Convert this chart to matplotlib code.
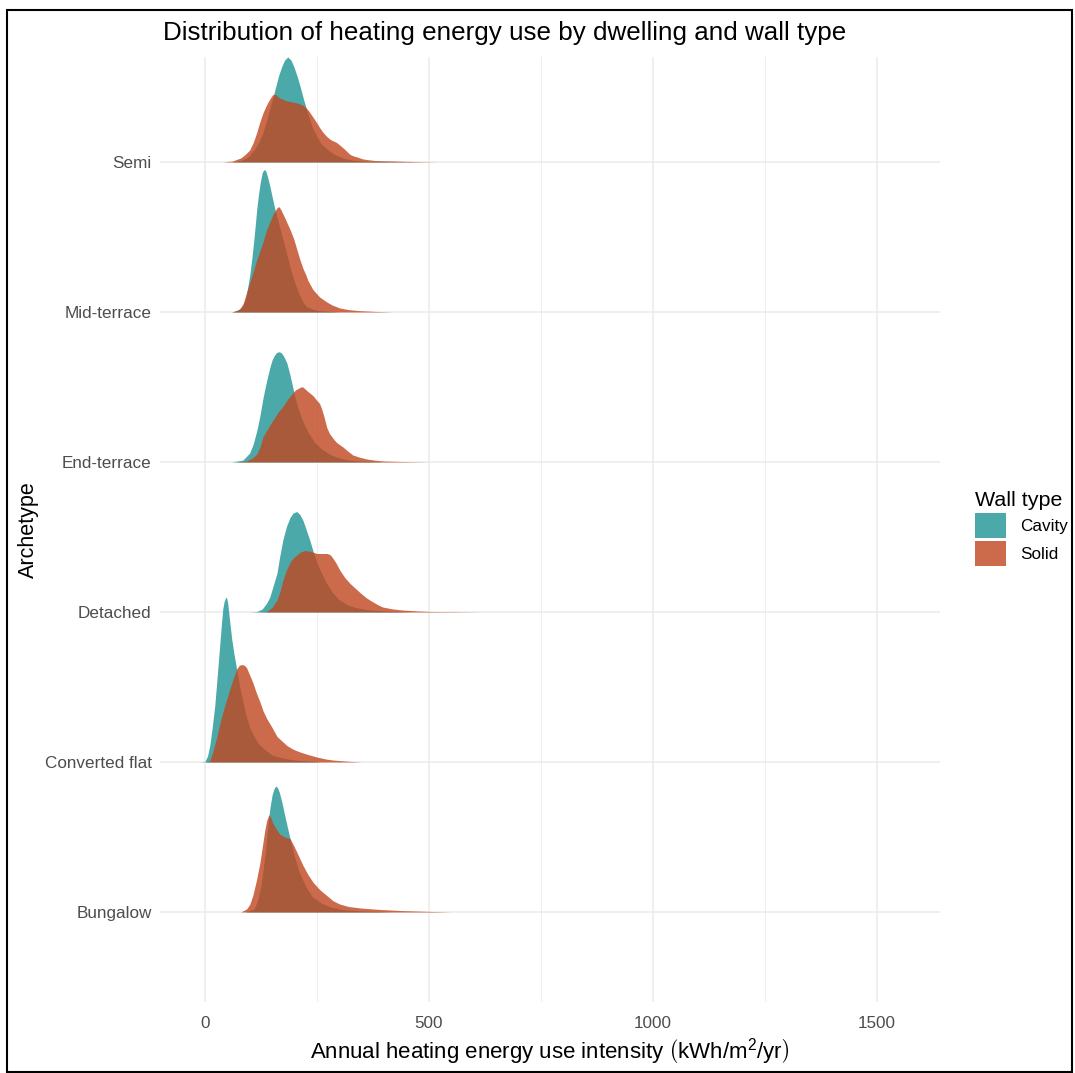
import matplotlib
matplotlib.use("Agg")
import matplotlib.pyplot as plt
from matplotlib.patches import Patch, Rectangle

plt.rcParams['font.family'] = ['Liberation Sans', 'DejaVu Sans']
plt.rcParams['mathtext.fontset'] = 'custom'
plt.rcParams['mathtext.rm'] = 'Liberation Sans'
plt.rcParams['mathtext.it'] = 'Liberation Sans:italic'

# archetypes from bottom row to top row
archetypes = ['Bungalow', 'Converted flat', 'Detached', 'End-terrace', 'Mid-terrace', 'Semi']
wall_types = ['Cavity', 'Solid']

# density curves (x in kWh/m2/yr, height in row units)
semi_cavity_x = [60, 80, 95, 110, 120, 130, 140, 150, 158, 165, 172, 178, 185, 192, 198, 205, 212, 220,
                 230, 240, 250, 260, 275, 290, 310, 330, 360, 400, 480]
semi_cavity_h = [0, .01, .03, .08, .13, .20, .30, .41, .50, .58, .64, .68, .70, .68, .64, .58, .51, .42,
                 .32, .23, .17, .12, .08, .05, .025, .012, .005, .003, 0]
semi_solid_x = [40, 62, 80, 90, 100, 108, 115, 122, 130, 136, 141, 147, 152, 158, 165, 172, 180, 188,
                196, 203, 210, 217, 223, 232, 241, 250, 256, 263, 272, 280, 287, 294, 302, 310, 317,
                324, 332, 340, 353, 370, 380, 420, 470, 520]
semi_solid_h = [0, .007, .027, .05, .08, .13, .19, .26, .33, .37, .40, .43, .45, .45, .43, .42, .41, .405,
                .40, .395, .39, .38, .37, .34, .30, .26, .23, .20, .17, .15, .14, .13, .11, .09, .07,
                .05, .04, .033, .02, .013, .01, .007, .003, 0]

mid_cavity_x = [60, 75, 85, 92, 100, 105, 110, 116, 120, 124, 128, 132, 136, 140, 145, 150, 156, 163,
                170, 180, 190, 200, 210, 220, 228, 250, 300]
mid_cavity_h = [0, .015, .04, .10, .24, .36, .50, .69, .79, .87, .93, .95, .94, .90, .84, .77, .69, .61,
                .53, .42, .30, .20, .12, .06, .033, .01, 0]
mid_solid_x = [60, 70, 78, 86, 93, 105, 116, 128, 138, 145, 152, 158, 162, 166, 170, 178, 184, 190, 198,
               205, 212, 219, 225, 230, 241, 256, 272, 285, 301, 320, 340, 380, 420]
mid_solid_h = [0, .008, .02, .06, .13, .24, .35, .45, .55, .60, .65, .68, .70, .70, .68, .63, .59, .55, .49,
               .42, .35, .29, .25, .21, .15, .10, .067, .045, .027, .016, .01, .004, 0]

end_cavity_x = [60, 85, 100, 108, 116, 123, 130, 137, 145, 150, 155, 160, 165, 170, 175, 183, 190, 196,
                203, 210, 220, 230, 245, 260, 280, 300, 320, 340, 400]
end_cavity_h = [0, .013, .06, .12, .21, .31, .43, .53, .63, .68, .71, .73, .735, .73, .71, .66, .58, .50,
                .41, .34, .26, .20, .13, .087, .05, .027, .013, .007, 0]
end_solid_x = [70, 93, 105, 116, 123, 130, 140, 152, 163, 174, 185, 196, 202, 208, 214, 219, 226, 234,
               242, 250, 256, 261, 266, 272, 278, 283, 288, 294, 301, 308, 318, 330, 345, 361, 380, 397,
               440, 500]
end_solid_h = [0, .007, .025, .053, .10, .17, .22, .28, .33, .37, .42, .46, .48, .49, .50, .50, .48, .46,
               .44, .41, .39, .35, .30, .23, .19, .17, .15, .13, .115, .10, .075, .047, .032, .02, .012,
               .007, .003, 0]

det_cavity_x = [100, 116, 128, 138, 145, 150, 155, 161, 167, 174, 182, 190, 197, 205, 212, 219, 226, 234,
                242, 250, 260, 270, 285, 300, 320, 340, 370, 400, 460]
det_cavity_h = [0, .003, .02, .06, .10, .15, .20, .26, .37, .48, .57, .63, .66, .67, .65, .61, .55, .48,
                .40, .33, .26, .20, .13, .08, .045, .027, .013, .007, 0]
det_solid_x = [120, 138, 150, 161, 168, 174, 182, 190, 197, 205, 213, 223, 235, 250, 260, 272, 278, 283,
               292, 301, 312, 324, 335, 346, 360, 375, 386, 397, 420, 442, 475, 509, 560, 620]
det_solid_h = [0, .003, .03, .08, .14, .21, .28, .33, .36, .38, .40, .41, .405, .39, .39, .39, .385, .37,
               .33, .28, .23, .19, .16, .13, .095, .067, .048, .033, .02, .013, .007, .003, .002, 0]

flat_cavity_x = [-10, 0, 6, 11, 16, 22, 27, 33, 37, 40, 43, 47, 49, 51, 55, 60, 65, 71, 78, 85, 92, 100,
                 110, 120, 135, 150, 175, 200, 260]
flat_cavity_h = [0, .003, .04, .11, .22, .37, .55, .77, .92, 1.02, 1.07, 1.10, 1.09, 1.06, .95, .82, .72,
                 .62, .50, .40, .31, .23, .17, .12, .08, .047, .025, .013, 0]
flat_solid_x = [0, 11, 18, 27, 33, 40, 48, 56, 64, 71, 77, 83, 88, 93, 100, 107, 115, 123, 130, 138, 150,
                161, 172, 183, 197, 212, 230, 250, 270, 286, 320, 350]
flat_solid_h = [0, .007, .07, .17, .25, .33, .41, .49, .56, .62, .645, .65, .645, .63, .58, .53, .46, .40,
                .34, .29, .23, .17, .14, .11, .085, .067, .05, .033, .02, .013, .005, 0]

bung_cavity_x = [90, 110, 118, 125, 130, 135, 140, 145, 150, 154, 158, 162, 166, 172, 180, 190, 200, 210,
                 225, 240, 260, 280, 310, 350, 420]
bung_cavity_h = [0, .02, .08, .17, .28, .40, .55, .69, .78, .82, .84, .83, .80, .73, .62, .49, .37, .27,
                 .17, .10, .06, .033, .015, .007, 0]
bung_solid_x = [80, 93, 100, 107, 115, 123, 128, 134, 138, 143, 147, 152, 160, 167, 178, 190, 197, 205,
                212, 219, 230, 241, 256, 272, 286, 301, 320, 346, 390, 435, 490, 550]
bung_solid_h = [0, .02, .05, .11, .21, .33, .43, .55, .61, .65, .63, .59, .55, .52, .50, .49, .45, .40,
                .355, .31, .25, .20, .15, .11, .075, .053, .037, .027, .017, .01, .005, 0]

curves = {
    'Semi': [(semi_cavity_x, semi_cavity_h), (semi_solid_x, semi_solid_h)],
    'Mid-terrace': [(mid_cavity_x, mid_cavity_h), (mid_solid_x, mid_solid_h)],
    'End-terrace': [(end_cavity_x, end_cavity_h), (end_solid_x, end_solid_h)],
    'Detached': [(det_cavity_x, det_cavity_h), (det_solid_x, det_solid_h)],
    'Converted flat': [(flat_cavity_x, flat_cavity_h), (flat_solid_x, flat_solid_h)],
    'Bungalow': [(bung_cavity_x, bung_cavity_h), (bung_solid_x, bung_solid_h)],
}

colors = ['#1f9494', '#c0461e']
alpha = 0.8
grid_col = '#ebebeb'

W, H = 1075, 1073
fig = plt.figure(figsize=(W / 100, H / 100), dpi=100)
ax = fig.add_axes([160 / W, 1 - 1002 / H, (940 - 160) / W, (1002 - 57) / H])

# top row first so the lower ridges overlap it
for name in archetypes[::-1]:
    y0 = archetypes.index(name) + 1
    for (xs, hs), c in zip(curves[name], colors):
        ax.fill_between(xs, y0, [y0 + h for h in hs], color=c, alpha=alpha, lw=0, zorder=3)

ax.set_xlim(-100, 1640)
ax.set_ylim(0.4, 6.7)
ax.set_xticks([0, 500, 1000, 1500])
ax.set_xticks([250, 750, 1250], minor=True)
ax.set_yticks(range(1, len(archetypes) + 1))
ax.set_yticklabels(archetypes)
ax.grid(True, which='major', color=grid_col, lw=1.1, zorder=0)
ax.grid(True, which='minor', axis='x', color=grid_col, lw=0.6, zorder=0)
ax.tick_params(which='both', length=0, labelsize=12.3, labelcolor='#4d4d4d', pad=6)
ax.tick_params(axis='x', pad=10)
for s in ax.spines.values():
    s.set_visible(False)

ax.set_xlabel(r'Annual heating energy use intensity $\left(\mathrm{kWh/m^2/yr}\right)$',
              fontsize=16, labelpad=4)
ax.set_ylabel('Archetype', fontsize=15.5, labelpad=4)
fig.text(163 / W, 1 - 33 / H, 'Distribution of heating energy use by dwelling and wall type',
         fontsize=18.7, ha='left', va='center')

handles = [Patch(facecolor=c, alpha=alpha, edgecolor='none', label=w) for c, w in zip(colors, wall_types)]
leg = fig.legend(handles=handles, title='Wall type', loc='upper left',
                 bbox_to_anchor=(960 / W, 1 - 476 / H), frameon=False, fontsize=12.3,
                 title_fontsize=15.4, handlelength=1.8, handleheight=1.9, labelspacing=0.15,
                 handletextpad=0.8)
leg._legend_box.align = 'left'

fig.patches.append(Rectangle((7 / W, 1 / H), (1072 - 7) / W, (1063 - 1) / H, transform=fig.transFigure,
                             fill=False, edgecolor='black', lw=1.5))

fig.savefig('out.png', dpi=100)
